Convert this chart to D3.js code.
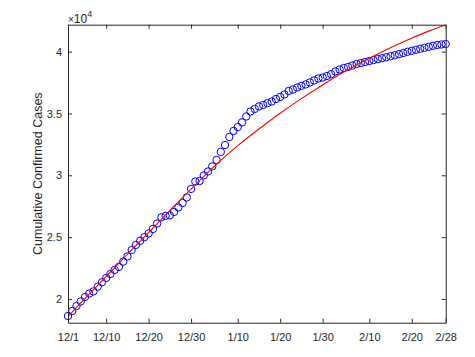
<!DOCTYPE html>
<html>
<head>
<meta charset="utf-8">
<script src="https://cdn.jsdelivr.net/npm/d3@7"></script>
<style>
  body { margin: 0; background: #fff; }
  text { font-family: "Liberation Sans", Arial, sans-serif; fill: #262626; }
</style>
</head>
<body>
<div id="chart"></div>
<script>
// daily cumulative confirmed cases, 12/1 .. 2/28 (one value per day)
const confirmed = [
  18620, 19030, 19430, 19800, 20160, 20440, 20610, 20990, 21350, 21700,
  22020, 22350, 22590, 23020, 23440, 23960, 24370, 24700, 25000, 25300,
  25660, 26100, 26600, 26720, 26760, 27040, 27400, 27760, 28210, 28900,
  29500, 29540, 29990, 30310, 30720, 31240, 31890, 32450, 33100, 33590,
  33900, 34280, 34760, 35160, 35370, 35570, 35690, 35830, 35970, 36170,
  36340, 36540, 36820, 36940, 37100, 37230, 37350, 37510, 37670, 37830,
  37910, 38030, 38180, 38400, 38560, 38680, 38760, 38880, 39000, 39080,
  39160, 39240, 39320, 39400, 39470, 39550, 39630, 39710, 39800, 39890,
  39990, 40070, 40150, 40230, 40310, 40390, 40470, 40540, 40580, 40620
];

// fitted curve, read at day offsets from 12/1
const fitDays = [0, 5, 10, 15, 20, 25, 30, 35, 40, 45, 50, 55, 60, 65, 70, 75, 80, 85, 89];
const fitValues = [
  18600, 20400, 22180, 23960, 25730, 27500, 29220, 30900, 32400, 33750,
  35020, 36200, 37310, 38350, 39290, 40160, 40950, 41660, 42160
];

// axis ticks
const xTickDays = [0, 9, 19, 29, 40, 50, 60, 71, 81, 89];
const xTickLabels = ["12/1", "12/10", "12/20", "12/30", "1/10", "1/20", "1/30", "2/10", "2/20", "2/28"];
const yTicks = [20000, 25000, 30000, 35000, 40000];

const w = 475;
const h = 357;
const margin = { top: 24.7, right: 29.3, bottom: 34.3, left: 68 };

const svg = d3
  .select("#chart")
  .append("svg")
  .attr("width", w)
  .attr("height", h);

svg.append("rect").attr("width", w).attr("height", h).attr("fill", "#fff");

const xScale = d3
  .scaleLinear()
  .domain([0, 89])
  .range([margin.left, w - margin.right]);

const yScale = d3
  .scaleLinear()
  .domain([18080, 42180])
  .range([h - margin.bottom, margin.top]);

// markers
svg
  .append("g")
  .selectAll("circle")
  .data(confirmed)
  .enter()
  .append("circle")
  .attr("cx", (d, i) => xScale(i))
  .attr("cy", (d) => yScale(d))
  .attr("r", 3.7)
  .attr("fill", "none")
  .attr("stroke", "#0000ff")
  .attr("stroke-width", 1);

// fitted line
const line = d3
  .line()
  .x((d, i) => xScale(fitDays[i]))
  .y((d) => yScale(d))
  .curve(d3.curveMonotoneX);

svg
  .append("path")
  .datum(fitValues)
  .attr("d", line)
  .attr("fill", "none")
  .attr("stroke", "#ff0000")
  .attr("stroke-width", 1.1);

// axes (ticks point inward, box on)
const xAxis = d3
  .axisBottom(xScale)
  .tickValues(xTickDays)
  .tickFormat((d, i) => xTickLabels[i])
  .tickSizeInner(-4)
  .tickSizeOuter(0)
  .tickPadding(11);

const yAxis = d3
  .axisLeft(yScale)
  .tickValues(yTicks)
  .tickFormat((d) => d / 10000)
  .tickSizeInner(-4)
  .tickSizeOuter(0)
  .tickPadding(6);

svg
  .append("g")
  .attr("transform", "translate(0," + (h - margin.bottom) + ")")
  .call(xAxis);

svg
  .append("g")
  .attr("transform", "translate(" + margin.left + ",0)")
  .call(yAxis);

svg
  .append("g")
  .attr("transform", "translate(0," + margin.top + ")")
  .call(d3.axisTop(xScale).tickValues(xTickDays).tickFormat("").tickSizeInner(-4).tickSizeOuter(0));

svg
  .append("g")
  .attr("transform", "translate(" + (w - margin.right) + ",0)")
  .call(d3.axisRight(yScale).tickValues(yTicks).tickFormat("").tickSizeInner(-4).tickSizeOuter(0));

svg.selectAll(".domain").attr("stroke", "#262626").attr("stroke-width", 1);
svg.selectAll(".tick line").attr("stroke", "#262626");
svg
  .selectAll(".tick text")
  .attr("fill", "#262626")
  .style("font-size", "11px")
  .style("font-family", "'Liberation Sans', Arial, sans-serif");

// exponent label
const expo = svg
  .append("text")
  .attr("x", margin.left)
  .attr("y", 23)
  .style("font-size", "12px");
expo.append("tspan").style("font-size", "10px").text("\u00d7");
expo.append("tspan").style("font-size", "12px").text("10");
expo.append("tspan").attr("dy", -6).style("font-size", "9px").text("4");

// y label
svg
  .append("text")
  .attr("transform", "translate(41.5," + (margin.top + (h - margin.top - margin.bottom) / 2) + ") rotate(-90)")
  .attr("text-anchor", "middle")
  .style("font-size", "12.5px")
  .text("Cumulative Confirmed Cases");
</script>
</body>
</html>
